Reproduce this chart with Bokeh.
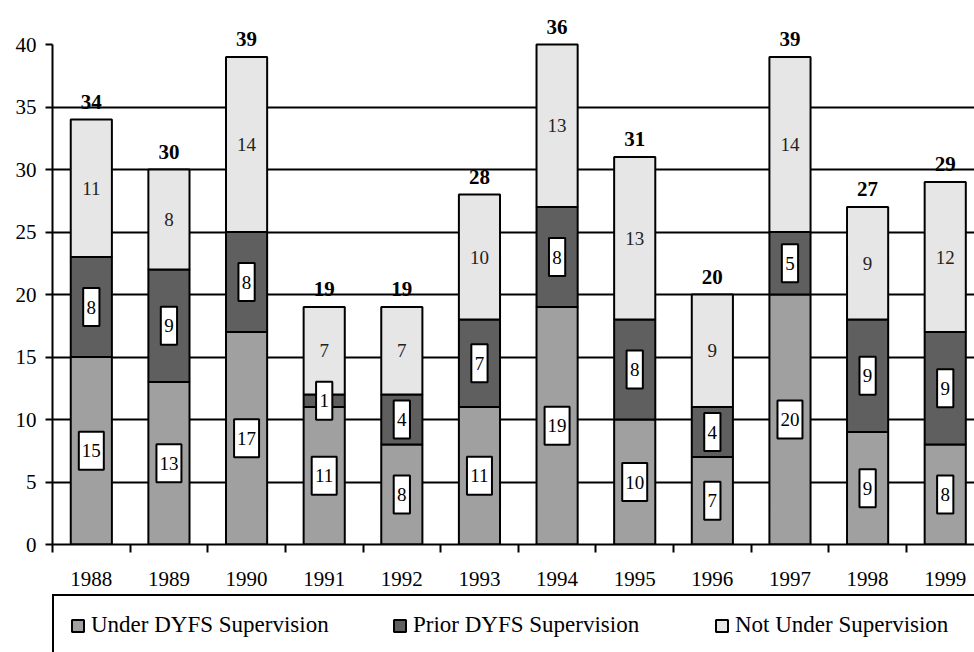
import numpy as np
from bokeh.plotting import figure
from bokeh.layouts import column
from bokeh.models import Range1d, FixedTicker, Legend, LegendItem, ColumnDataSource
from bokeh.core.properties import value
from bokeh.embed import file_html
from bokeh.resources import INLINE

# ---- data ----
years = ["1988", "1989", "1990", "1991", "1992", "1993",
         "1994", "1995", "1996", "1997", "1998", "1999"]
under = [15, 13, 17, 11, 8, 11, 19, 10, 7, 20, 9, 8]
prior = [8, 9, 8, 1, 4, 7, 8, 8, 4, 5, 9, 9]
not_under = [11, 8, 14, 7, 7, 10, 13, 13, 9, 14, 9, 12]
totals = [34, 30, 39, 19, 19, 28, 36, 31, 20, 39, 27, 29]
series_names = ["Under DYFS Supervision", "Prior DYFS Supervision", "Not Under Supervision"]
series_colors = ["#A0A0A0", "#5F5F5F", "#E6E6E6"]
y_ticks = [0, 5, 10, 15, 20, 25, 30, 35, 40]

FONT = "Liberation Serif"
stack_cols = ["under", "prior", "not_under"]

n = len(years)
xc = np.arange(n) + 0.5
u = np.array(under, dtype=float)
pr = np.array(prior, dtype=float)
nu = np.array(not_under, dtype=float)

def box_w(vals):
    return [7.5 + 8.75 * len(str(v)) for v in vals]

src = ColumnDataSource(dict(
    x=xc, under=u, prior=pr, not_under=nu,
    under_mid=u / 2, prior_mid=u + pr / 2, not_mid=u + pr + nu / 2,
    top=u + pr + nu,
    under_lbl=[str(v) for v in under],
    prior_lbl=[str(v) for v in prior],
    not_lbl=[str(v) for v in not_under],
    total_lbl=[str(v) for v in totals],
    under_bw=box_w(under), prior_bw=box_w(prior),
))

p = figure(width=974, height=594,
           x_range=Range1d(0, 11.877), y_range=Range1d(0, 42.88),
           output_backend="svg", toolbar_location=None,
           min_border_left=50, min_border_right=0, min_border_top=8,
           min_border_bottom=50)
p.outline_line_color = None
p.background_fill_color = "white"
p.border_fill_color = "white"

rs = p.vbar_stack(stack_cols, x="x", width=0.53, source=src,
                  fill_color=series_colors, line_color="black", line_width=2)

# grid
p.xgrid.grid_line_color = None
p.ygrid.ticker = FixedTicker(ticks=y_ticks[1:-1])
p.ygrid.grid_line_color = "black"
p.ygrid.grid_line_width = 2

# y axis
ya = p.yaxis[0]
ya.ticker = FixedTicker(ticks=y_ticks)
ya.bounds = (y_ticks[0], y_ticks[-1])
ya.axis_line_width = 2
ya.major_tick_line_width = 2
ya.major_tick_out = 7
ya.major_tick_in = 0
ya.minor_tick_line_color = None
ya.major_label_text_font = FONT
ya.major_label_text_font_size = "21px"
ya.major_label_text_color = "black"
ya.major_label_standoff = 9

# x axis: labels at centres, ticks at category boundaries
xa = p.xaxis[0]
xa.ticker = FixedTicker(ticks=list(xc), minor_ticks=list(range(n)))
xa.major_label_overrides = {float(v): y for v, y in zip(xc, years)}
xa.axis_line_width = 2
xa.major_tick_out = 0
xa.major_tick_in = 0
xa.minor_tick_out = 8
xa.minor_tick_in = 0
xa.minor_tick_line_width = 2
xa.minor_tick_line_color = "black"
xa.major_label_text_font = FONT
xa.major_label_text_font_size = "21px"
xa.major_label_text_color = "black"
xa.major_label_standoff = 19

# white boxed labels for the two lower segments
rect_kw = dict(height=38, width_units="screen", height_units="screen",
               fill_color="white", line_color="black", line_width=2)
p.rect(x="x", y="under_mid", width="under_bw", source=src, **rect_kw)
p.rect(x="x", y="prior_mid", width="prior_bw", source=src, **rect_kw)

txt_kw = dict(text_font=value(FONT), text_font_size=value("19px"),
              text_align="center", text_baseline="middle", text_color="black")
p.text(x="x", y="under_mid", text="under_lbl", source=src, **txt_kw)
p.text(x="x", y="prior_mid", text="prior_lbl", source=src, **txt_kw)
p.text(x="x", y="not_mid", text="not_lbl", source=src, text_font=value(FONT),
       text_font_size=value("19px"), text_align="center", text_baseline="middle",
       text_color="#222222")
p.text(x="x", y="top", text="total_lbl", source=src, text_font=value(FONT),
       text_font_size=value("21px"), text_font_style="bold", text_align="center",
       text_baseline="alphabetic", text_color="black", y_offset=-18)

# ---- legend strip below the chart ----
# the strip's own x range lies outside the data, so its stacked bars stay hidden
# and only serve as legend swatches
p2 = figure(width=974, height=58, x_range=Range1d(-3, -2), y_range=Range1d(0, 1),
            output_backend="svg", toolbar_location=None,
            x_axis_location=None, y_axis_location=None,
            min_border_left=52, min_border_right=0, min_border_top=0,
            min_border_bottom=0)
p2.outline_line_color = None
p2.xgrid.visible = False
p2.ygrid.visible = False
p2.background_fill_color = "white"
p2.border_fill_color = "white"
lrs = p2.vbar_stack(stack_cols, x="x", width=0.53, source=src,
                    fill_color=series_colors, line_color="black", line_width=2)

legend = Legend(items=[LegendItem(label=nm, renderers=[r]) for nm, r in zip(series_names, lrs)],
                location="top_left", orientation="horizontal", padding=16, spacing=61,
                margin=0, glyph_width=15, glyph_height=15, label_standoff=6,
                label_width=240, label_text_font=FONT, label_text_font_size="23px",
                label_text_color="black",
                border_line_color="black", border_line_width=2, border_line_alpha=1,
                background_fill_color="white", background_fill_alpha=1)
p2.add_layout(legend)

layout = column(p, p2, spacing=0)
open("out.html", "w").write(file_html(layout, INLINE))
